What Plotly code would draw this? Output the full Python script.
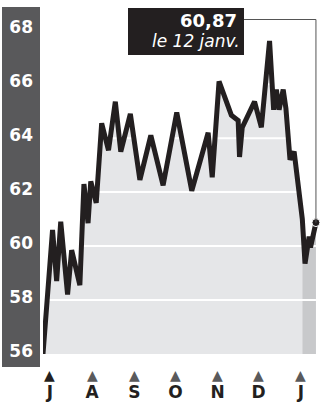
import plotly.graph_objects as go
import pandas as pd

# ---- data ----
dates = ["2023-06-26", "2023-07-03", "2023-07-06", "2023-07-09", "2023-07-14",
         "2023-07-17", "2023-07-23", "2023-07-26", "2023-07-29", "2023-07-31",
         "2023-08-04", "2023-08-08", "2023-08-13", "2023-08-18", "2023-08-22",
         "2023-08-29", "2023-09-05", "2023-09-13", "2023-09-22", "2023-10-02",
         "2023-10-13", "2023-10-25", "2023-10-28", "2023-11-02", "2023-11-11",
         "2023-11-16", "2023-11-17", "2023-11-19", "2023-11-28", "2023-12-03",
         "2023-12-09", "2023-12-12", "2023-12-14", "2023-12-16", "2023-12-19",
         "2023-12-21", "2023-12-24", "2023-12-27", "2024-01-02", "2024-01-04",
         "2024-01-07", "2024-01-08", "2024-01-12"]
values = [56.0, 60.6, 58.7, 60.9, 58.2,
          59.85, 58.55, 62.3, 60.85, 62.4,
          61.6, 64.55, 63.55, 65.35, 63.5,
          64.9, 62.45, 64.1, 62.25, 64.95,
          62.05, 64.2, 62.55, 66.1, 64.85,
          64.65, 63.3, 64.4, 65.35, 64.4,
          67.6, 65.05, 65.8, 65.05, 65.8,
          65.1, 63.2, 63.5, 61.0, 59.35,
          60.35, 59.95, 60.87]
month_starts = ["2023-07-01", "2023-08-01", "2023-09-01", "2023-10-01",
                "2023-11-01", "2023-12-01", "2024-01-01"]
month_labels = ["J", "A", "S", "O", "N", "D", "J"]
y_ticks = [56, 58, 60, 62, 64, 66, 68]
last_label = "le 12 janv."
current_period_start = "2024-01-02"

# ---- styling ----
LINE = "#231f20"
FILL_LIGHT = "#e5e6e8"
FILL_DARK = "#c8c9cb"
PANEL = "#59595b"
FONT = "DejaVu Sans"

W, H = 321, 404
ML, MR, MT, MB = 43, 3, 14, 50
x_range = [pd.Timestamp("2023-06-26"), pd.Timestamp("2024-01-13 12:00")]
y_range = [56, 68.6]

d = pd.to_datetime(pd.Series(dates))
v = pd.Series(values)
split = pd.Timestamp(current_period_start)
old = d <= split
new = d >= split

fig = go.Figure()
fig.add_trace(go.Scatter(x=d[old], y=v[old], mode="none", fill="tozeroy",
                         fillcolor=FILL_LIGHT, hoverinfo="skip"))
fig.add_trace(go.Scatter(x=d[new], y=v[new], mode="none", fill="tozeroy",
                         fillcolor=FILL_DARK, hoverinfo="skip"))
# white grid lines above the fill, below the line
for t in y_ticks[1:-1]:
    fig.add_trace(go.Scatter(x=[d.iloc[0], d.iloc[-1]], y=[t, t], mode="lines",
                             line=dict(color="white", width=2), hoverinfo="skip"))
fig.add_trace(go.Scatter(x=d, y=v, mode="lines",
                         line=dict(color=LINE, width=5, shape="linear"),
                         hoverinfo="skip"))
fig.add_trace(go.Scatter(x=[d.iloc[-1]], y=[v.iloc[-1]], mode="markers",
                         marker=dict(color=LINE, size=8,
                                     line=dict(color="white", width=1)),
                         cliponaxis=False, hoverinfo="skip"))

pw = W - ML - MR
ph = H - MT - MB

def px_x(p):
    return (p - ML) / pw

def px_y(p):
    return (H - MB - p) / ph

span = (x_range[1] - x_range[0]).total_seconds()
last_paper_x = (d.iloc[-1] - x_range[0]).total_seconds() / span

shapes = [
    dict(type="rect", xref="paper", yref="paper", layer="below",
         x0=px_x(2), x1=px_x(40), y0=px_y(367), y1=px_y(7),
         fillcolor=PANEL, line=dict(width=0)),
    dict(type="rect", xref="paper", yref="paper", layer="above",
         x0=px_x(128), x1=px_x(244), y0=px_y(55), y1=px_y(8),
         fillcolor=LINE, line=dict(width=0)),
    dict(type="line", xref="paper", yref="paper", layer="above",
         x0=px_x(244), x1=last_paper_x, y0=px_y(19.5), y1=px_y(19.5),
         line=dict(color="#555555", width=1)),
    dict(type="line", xref="x", yref="y", layer="above",
         x0=d.iloc[-1], x1=d.iloc[-1], y0=v.iloc[-1],
         y1=y_range[0] + (H - MB - 19.5) / ph * (y_range[1] - y_range[0]),
         line=dict(color="#555555", width=1)),
]

annotations = [
    dict(xref="paper", yref="paper", x=px_x(239), y=px_y(20),
         xanchor="right", yanchor="middle", showarrow=False,
         text=f"{values[-1]:.2f}".replace(".", ","),
         font=dict(family=FONT, size=18, color="white", weight="bold")),
    dict(xref="paper", yref="paper", x=px_x(242), y=px_y(41),
         xanchor="right", yanchor="middle", showarrow=False,
         text=last_label,
         font=dict(family=FONT, size=17, color="white", style="italic")),
]
for i, m in enumerate(month_starts):
    annotations.append(dict(xref="x", yref="paper", x=m, y=px_y(375),
                            xanchor="center", yanchor="middle", showarrow=False,
                            text="▲",
                            font=dict(family="DejaVu Sans", size=14,
                                      color=LINE if i == 0 else "#5a5a5c")))

fig.update_layout(
    width=W, height=H,
    margin=dict(l=ML, r=MR, t=MT, b=MB),
    paper_bgcolor="white", plot_bgcolor="white",
    showlegend=False,
    shapes=shapes, annotations=annotations,
    xaxis=dict(type="date", range=x_range, showgrid=False, zeroline=False,
               showline=False, ticks="", tickmode="array",
               tickvals=month_starts, ticktext=month_labels,
               ticklabelstandoff=26, automargin=False,
               tickfont=dict(family=FONT, size=17, color=LINE, weight="bold"),
               fixedrange=True),
    yaxis=dict(range=y_range, showgrid=False, zeroline=False, showline=False,
               ticks="", tickmode="array", tickvals=y_ticks,
               ticktext=[str(t) for t in y_ticks],
               ticklabelstandoff=9, ticklabelshift=-3, automargin=False,
               tickfont=dict(family=FONT, size=17, color="white", weight="bold"),
               fixedrange=True),
)

fig.write_html("out.html")
